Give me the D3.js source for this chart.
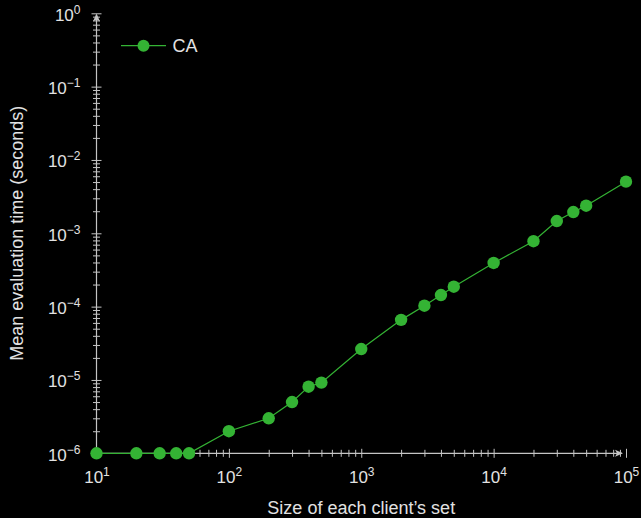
<!DOCTYPE html>
<html>
<head>
<meta charset="utf-8">
<script src="https://cdn.jsdelivr.net/npm/d3@7"></script>
<style>
  html, body { margin: 0; padding: 0; background: #000; }
  svg { display: block; font-family: "Liberation Sans", Arial, sans-serif; }
</style>
</head>
<body>
<div id="chart"></div>
<script>
// data
var sizes = [10, 20, 30, 40, 50, 100, 200, 300, 400, 500, 1000, 2000, 3000, 4000, 5000,
             10000, 20000, 30000, 40000, 50000, 100000];
var caTimes = [1e-6, 1e-6, 1e-6, 1e-6, 1e-6, 2.0e-6, 3.0e-6, 5.0e-6, 8.1e-6, 9.2e-6, 2.64e-5,
               6.6e-5, 1.03e-4, 1.44e-4, 1.87e-4, 3.94e-4, 7.8e-4, 1.47e-3, 1.95e-3, 2.38e-3, 5.06e-3];
var xMajor = [1e1, 1e2, 1e3, 1e4, 1e5];
var yMajor = [1e-6, 1e-5, 1e-4, 1e-3, 1e-2, 1e-1, 1e0];
var seriesName = "CA";

var w = 641, h = 518;
var green = "#34b334", axisCol = "#c4c4c4", textCol = "#e2e2e2";

var svg = d3.select("#chart").append("svg")
    .attr("width", w)
    .attr("height", h);

var x = d3.scaleLog().domain([10, 1e5]).range([96.5, 626]);
var y = d3.scaleLog().domain([1e-6, 1]).range([453.3, 13.3]);

function minors(majors) {
    var out = [];
    for (var i = 0; i < majors.length - 1; i++) {
        for (var k = 2; k <= 9; k++) out.push(majors[i] * k);
    }
    return out;
}

function supLabel(sel, exp) {
    sel.text(null);
    sel.append("tspan").text("10");
    sel.append("tspan").attr("dy", -7).attr("font-size", 12)
        .text(exp < 0 ? "\u2212" + (-exp) : exp);
}

// x axis
var gx = svg.append("g").attr("transform", "translate(0," + y(1e-6) + ")");
gx.append("g").call(d3.axisBottom(x).tickValues(minors(xMajor)).tickFormat(""))
    .call(function(g) {
        g.select(".domain").remove();
        g.selectAll(".tick line").attr("y1", -3.5).attr("y2", 3.5).attr("stroke", axisCol);
    });
gx.append("g").call(d3.axisBottom(x).tickValues(xMajor).tickFormat(""))
    .call(function(g) {
        g.select(".domain").remove();
        g.selectAll(".tick line").attr("y1", -4.5).attr("y2", 4.5).attr("stroke", axisCol);
        g.selectAll(".tick text")
            .attr("y", 30).attr("dy", null)
            .attr("fill", textCol).attr("font-size", 17)
            .attr("font-family", "Liberation Sans, Arial, sans-serif")
            .each(function(d) { supLabel(d3.select(this), Math.round(Math.log10(d))); });
    });
gx.append("line").attr("x1", x(10)).attr("x2", 622).attr("stroke", axisCol).attr("stroke-width", 1.2);
gx.append("path").attr("d", "M623,0 L615,-3.5 L617,0 L615,3.5 Z").attr("fill", axisCol);

// y axis
var gy = svg.append("g").attr("transform", "translate(" + x(10) + ",0)");
gy.append("g").call(d3.axisLeft(y).tickValues(minors(yMajor)).tickFormat(""))
    .call(function(g) {
        g.select(".domain").remove();
        g.selectAll(".tick line").attr("x1", -3.5).attr("x2", 3.5).attr("stroke", axisCol);
    });
gy.append("g").call(d3.axisLeft(y).tickValues(yMajor).tickFormat(""))
    .call(function(g) {
        g.select(".domain").remove();
        g.selectAll(".tick line").attr("x1", -5).attr("x2", 5).attr("stroke", axisCol);
        g.selectAll(".tick text")
            .attr("x", -16).attr("dy", 7)
            .attr("fill", textCol).attr("font-size", 17)
            .attr("font-family", "Liberation Sans, Arial, sans-serif")
            .each(function(d) { supLabel(d3.select(this), Math.round(Math.log10(d))); });
    });
gy.append("line").attr("y1", y(1e-6)).attr("y2", 15).attr("stroke", axisCol).attr("stroke-width", 1.2);
gy.append("path").attr("d", "M0,13.5 L-3.5,21.5 L0,19.5 L3.5,21.5 Z").attr("fill", axisCol);

// axis titles
svg.append("text")
    .attr("x", (x(10) + x(1e5)) / 2).attr("y", 514)
    .attr("text-anchor", "middle").attr("font-size", 18).attr("fill", textCol)
    .text("Size of each client\u2019s set");

svg.append("text")
    .attr("transform", "translate(22.5," + (y(1e-6) + y(1)) / 2 + ") rotate(-90)")
    .attr("text-anchor", "middle").attr("font-size", 18).attr("fill", textCol)
    .text("Mean evaluation time (seconds)");

// series
var line = d3.line()
    .x(function(d, i) { return x(sizes[i]); })
    .y(function(d) { return y(d); });

svg.append("path")
    .datum(caTimes)
    .attr("d", line)
    .attr("fill", "none")
    .attr("stroke", green)
    .attr("stroke-width", 1.2);

svg.selectAll(".pt")
    .data(caTimes)
    .enter()
    .append("circle")
    .attr("class", "pt")
    .attr("cx", function(d, i) { return x(sizes[i]); })
    .attr("cy", function(d) { return y(d); })
    .attr("r", 6.2)
    .attr("fill", green);

// legend
var lg = svg.append("g").attr("transform", "translate(121,45.7)");
lg.append("line").attr("x1", 0).attr("x2", 45).attr("stroke", green).attr("stroke-width", 1.2);
lg.append("circle").attr("cx", 22.5).attr("r", 6).attr("fill", green);
lg.append("text").attr("x", 51.5).attr("y", 6.5).attr("font-size", 18).attr("fill", textCol)
    .text(seriesName);
</script>
</body>
</html>
